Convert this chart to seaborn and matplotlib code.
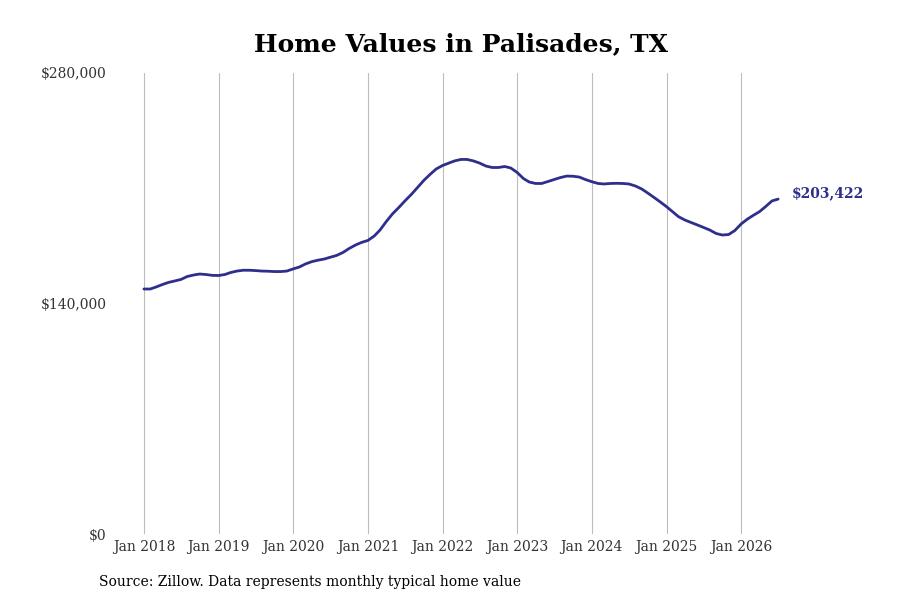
import matplotlib
matplotlib.use("Agg")
import matplotlib.pyplot as plt
import matplotlib.dates as mdates
import matplotlib.ticker as mticker
import pandas as pd
import seaborn as sns

# ---- data ----
start_month = "2018-01-01"
n_months = 103
home_values = [
    148800, 148800, 150000, 151500, 152800, 153700, 154600, 156400, 157300, 157900, 157600, 157100,
    157000, 157600, 158800, 159700, 160200, 160200, 160000, 159700, 159600, 159400, 159400, 159700,
    161000, 162200, 164000, 165400, 166300, 167000, 168100, 169200, 171000, 173400, 175500, 177100,
    178300, 181000, 184600, 189800, 194400, 198300, 202300, 206200, 210500, 214700, 218400, 221700,
    223800, 225300, 226600, 227500, 227500, 226600, 225300, 223500, 222600, 222600, 223200, 222300,
    219600, 215900, 213800, 212900, 212900, 214100, 215300, 216500, 217400, 217300, 216800, 215300,
    214000, 212900, 212600, 212900, 213000, 212900, 212600, 211400, 209600, 207100, 204400, 201700,
    198800, 195600, 192700, 190700, 189200, 187700, 186200, 184600, 182500, 181600, 181900, 184300,
    188300, 191300, 193500, 195800, 198900, 202300, 203422,
]
y_ticks = [0, 140000, 280000]
x_tick_years = list(range(2018, 2027))
title = "Home Values in Palisades, TX"
source = "Source: Zillow. Data represents monthly typical home value"

dates = pd.date_range(start_month, periods=n_months, freq="MS")
df = pd.DataFrame({"date": dates, "value": home_values})

sns.set_theme(style="white")
plt.rcParams["font.family"] = ["DejaVu Serif"]

line_color = "#2e2e8c"

fig = plt.figure(figsize=(9, 6), dpi=100)
ax = fig.add_axes([120 / 900, 66 / 600, 680 / 900, 461 / 600])

sns.lineplot(data=df, x="date", y="value", ax=ax, color=line_color, linewidth=2.0)

ax.set_ylim(0, 280000)
ax.set_xlim(pd.Timestamp("2017-09-06"), pd.Timestamp("2026-10-16"))
ax.set_yticks(y_ticks)
ax.yaxis.set_major_formatter(mticker.FuncFormatter(lambda v, p: f"${v:,.0f}"))
ax.set_xticks([pd.Timestamp(f"{y}-01-01") for y in x_tick_years])
ax.xaxis.set_major_formatter(mdates.DateFormatter("Jan %Y"))

ax.set_xlabel("")
ax.set_ylabel("")
for s in ax.spines.values():
    s.set_visible(False)
ax.grid(axis="x", color="#bdbdbd", linewidth=0.8)
ax.grid(axis="y", visible=False)
ax.tick_params(axis="x", length=0, pad=4, labelsize=10, labelcolor="#333333")
ax.tick_params(axis="y", length=0, pad=9.5, labelsize=10, labelcolor="#333333")

last = df.iloc[-1]
ax.annotate(f"${last['value']:,.0f}", xy=(last["date"], last["value"]),
            xytext=(10, 4), textcoords="offset points", va="center", ha="left",
            fontsize=10, fontweight="bold", color=line_color, annotation_clip=False)

fig.text(461 / 900, 1 - 44 / 600, title, ha="center", va="center",
         fontsize=18, fontweight="bold", color="black")
fig.text(99 / 900, 1 - 582 / 600, source, ha="left", va="center",
         fontsize=10, color="black")

fig.savefig("out.png", dpi=100)
